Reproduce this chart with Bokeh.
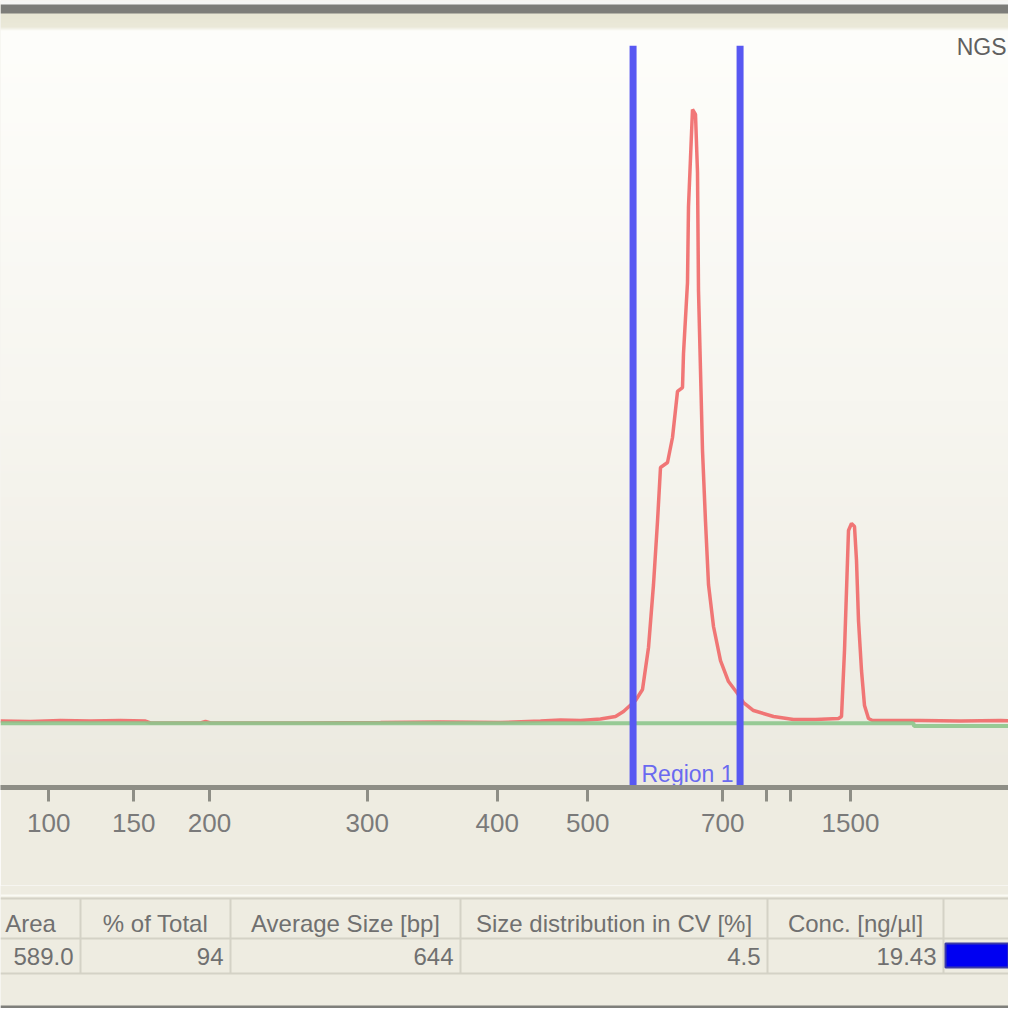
import numpy as np
from bokeh.plotting import figure
from bokeh.layouts import column
from bokeh.models import Range1d, FixedTicker
from bokeh.core.properties import value
from bokeh.embed import file_html
from bokeh.resources import INLINE

# ---------------- data ----------------
# ladder bands: migration time [s] and size [bp] (850 / 1000 labels hidden)
ladder_time = [43.38, 49.33, 54.63, 65.67, 74.77, 81.11, 90.56, 93.60, 95.30, 99.50]
ladder_bp = ["100", "150", "200", "300", "400", "500", "700", "", "", "1500"]

# sample electropherogram: time [s] vs fluorescence [FU]
trace_time = [40.00, 42.10, 44.20, 46.30, 48.40, 50.15, 50.50, 54.00, 54.35, 54.70,
              61.00, 66.60, 70.80, 75.00, 77.80, 79.20, 80.60, 82.00, 83.05, 83.61,
              84.45, 84.94, 85.36, 85.71, 85.99, 86.20, 86.69, 87.04, 87.39, 87.74,
              87.81, 88.09, 88.16, 88.44, 88.65, 88.79, 88.86, 89.14, 89.35, 89.56,
              89.91, 90.40, 90.96, 91.59, 92.01, 92.71, 94.11, 95.51, 97.05, 98.66,
              98.87, 99.08, 99.22, 99.36, 99.57, 99.78, 99.92, 100.06, 100.27, 100.48,
              100.76, 101.04, 102.30, 104.40, 107.20, 110.00, 111.12]
trace_fu = [0.25, 0.17, 0.33, 0.25, 0.33, 0.25, -0.08, -0.08, 0.17, -0.08,
            -0.08, 0.0, 0.08, 0.0, 0.25, 0.42, 0.33, 0.58, 1.0, 1.83,
            3.67, 5.5, 12.5, 23.0, 33.5, 42.5, 43.33, 47.5, 55.17, 55.83,
            61.5, 73.33, 86.0, 102.17, 101.33, 91.67, 72.0, 45.33, 33.5, 23.0,
            16.0, 10.33, 6.83, 4.83, 3.33, 2.0, 1.0, 0.5, 0.5, 0.67,
            1.0, 12.0, 22.0, 32.0, 33.17, 32.67, 27.0, 17.0, 8.67, 2.83,
            0.67, 0.33, 0.33, 0.33, 0.25, 0.33, 0.25]

# baseline
baseline_time = [40.00, 103.90, 103.95, 111.12]
baseline_fu = [-0.12, -0.12, -0.6, -0.6]

# region
region_start = 84.28
region_end = 91.77
region_name = "Region 1"
sample_name = "NGS"

# region table
table_headers = ["Area", "% of Total", "Average Size [bp]", "Size distribution in CV [%]", "Conc. [ng/µl]"]
table_values = ["589.0", "94", "644", "4.5", "19.43"]
region_color = "#0000F2"

# ---------------- styling constants ----------------
X0, X1 = 40.0, 110.56
Y0, Y1 = -10.83, 120.33
BG = "#EEECE1"
FONT = "Liberation Sans"

# ---------------- electropherogram ----------------
p = figure(width=1008, height=885, x_range=Range1d(X0, X1), y_range=Range1d(Y0, Y1),
           output_backend="svg", toolbar_location=None, y_axis_location=None,
           min_border_left=0, min_border_right=0, min_border_top=0, min_border_bottom=98,
           background_fill_color=BG, border_fill_color=BG, outline_line_color=None)
p.grid.visible = False

# background gradient (window chrome strip + white->beige plot area)
H = 787
rows = np.arange(H, dtype=float)
pos = [0, 3.99, 4, 12.99, 13, 26, 30, 400, 787]
R = np.interp(rows, pos, [246, 246, 125, 125, 232, 235, 254, 247, 236])
G = np.interp(rows, pos, [246, 246, 125, 125, 230, 233, 254, 246, 234])
B = np.interp(rows, pos, [244, 244, 121, 121, 212, 217, 251, 240, 224])
img8 = np.zeros((H, 1, 4), dtype=np.uint8)
img8[:, 0, 0] = R[::-1]
img8[:, 0, 1] = G[::-1]
img8[:, 0, 2] = B[::-1]
img8[:, 0, 3] = 255
img = img8.view(dtype=np.uint32).reshape((H, 1))
p.image_rgba(image=[img], x=X0, y=Y0, dw=X1 - X0, dh=Y1 - Y0)

p.line(trace_time, trace_fu, line_color="#F06868", line_width=3.5, line_alpha=0.9)
p.line(baseline_time, baseline_fu, line_color="#8DC68D", line_width=4, line_alpha=0.9)

p.text(x=[region_start + 0.59], y=[-8.5], text=[region_name],
       text_font=value(FONT), text_font_size="23px", text_color="#6A6AF0",
       text_baseline="middle", text_align="left")
p.segment(x0=[region_start, region_end], y0=[Y0, Y0], x1=[region_start, region_end],
          y1=[112.8, 112.8], line_color="#5858F2", line_width=7)

p.text(x=[110.42], y=[112.5], text=[sample_name], text_font=value(FONT),
       text_font_size="23px", text_color="#606060", text_baseline="middle",
       text_align="right")

ax = p.xaxis[0]
ax.ticker = FixedTicker(ticks=ladder_time)
ax.major_label_overrides = dict(zip(ladder_time, ladder_bp))
ax.axis_line_color = "#8E8E86"
ax.axis_line_width = 5
ax.major_tick_line_color = "#8E8E86"
ax.major_tick_line_width = 3
ax.major_tick_out = 14
ax.major_tick_in = 0
ax.minor_tick_line_color = None
ax.major_label_text_font = FONT
ax.major_label_text_font_size = "26px"
ax.major_label_text_color = "#7A7A7A"
ax.major_label_standoff = 12

# ---------------- region table ----------------
q = figure(width=1008, height=123, x_range=Range1d(0, 1008), y_range=Range1d(123, 0),
           output_backend="svg", toolbar_location=None, x_axis_location=None,
           y_axis_location=None, min_border=0, background_fill_color=BG,
           border_fill_color=BG, outline_line_color=None)
q.grid.visible = False

col_edges = [-20, 80, 230, 460, 767, 943]
right_edge = 1008
row_top, row_mid, row_bot = 13, 53, 88

q.segment(x0=[0], y0=[10], x1=[right_edge], y1=[10], line_color="#FAFAF4", line_width=2)
q.segment(x0=[0, 0, 0], y0=[row_top, row_mid, row_bot], x1=[right_edge] * 3,
          y1=[row_top, row_mid, row_bot], line_color="#D4D2C6", line_width=2)
q.segment(x0=col_edges[1:], y0=[row_top] * 5, x1=col_edges[1:], y1=[row_bot] * 5,
          line_color="#D4D2C6", line_width=2)

centers = [(a + b) / 2 for a, b in zip(col_edges[:-1], col_edges[1:])]
q.text(x=centers, y=[38] * 5, text=table_headers, text_font=value(FONT),
       text_font_size="24px", text_color="#707070", text_align="center",
       text_baseline="middle")
q.text(x=[e - 7 for e in col_edges[1:]], y=[71] * 5, text=table_values,
       text_font=value(FONT), text_font_size="24px", text_color="#707070",
       text_align="right", text_baseline="middle")

q.quad(left=[col_edges[-1] + 2], right=[right_edge], top=[58], bottom=[82],
       fill_color=region_color, line_color="#3A3AA8", line_width=2)

# bottom window chrome strip
q.quad(left=[0], right=[right_edge], top=[120], bottom=[123],
       fill_color="#7F7F7B", line_color=None)

layout = column(p, q, spacing=0)
open("out.html", "w").write(file_html(layout, INLINE))
